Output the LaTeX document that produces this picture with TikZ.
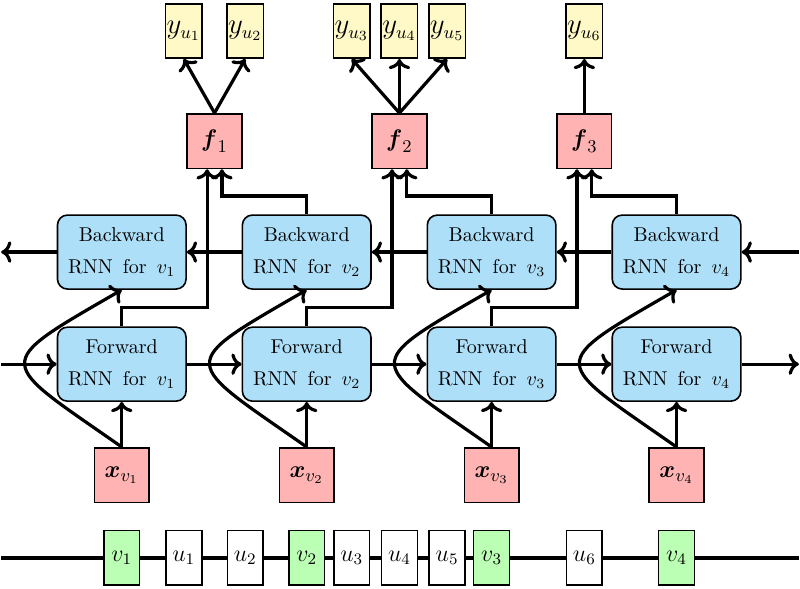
\documentclass[tikz,border=0pt]{standalone}
\usepackage{amsmath}
\usepackage{amssymb}
\usepackage{tikz}
\usetikzlibrary{arrows.meta, calc}
\usetikzlibrary{positioning}
\usepackage{xcolor}

\definecolor{rnnblue}{RGB}{173,223,248}
\definecolor{featpink}{RGB}{255,179,179}
\definecolor{outcream}{RGB}{255,249,200}
\definecolor{seqgreen}{RGB}{186,255,180}

\tikzset{
	rnnbox/.style={draw,thick,fill=rnnblue,rounded corners=5pt,minimum width=2.26cm,minimum height=1.3cm,align=center},
	featbox/.style={draw,thick,fill=featpink,minimum size=0.96cm,inner sep=0pt,font=\fontsize{13}{15}\selectfont},
	outbox/.style={draw,thick,fill=outcream,minimum width=0.64cm,minimum height=0.95cm,inner sep=0pt,font=\fontsize{13.5}{16}\selectfont},
	seqbox/.style={draw,thick,fill=white,minimum width=0.63cm,minimum height=0.96cm,inner sep=0pt,font=\large},
}

\begin{document}
\begin{tikzpicture}
	\useasboundingbox (0,0) rectangle (14.06,10.35);
	
	\coordinate (B1) at (2.14,5.92);
	\coordinate (B2) at (5.39,5.92);
	\coordinate (B3) at (8.64,5.92);
	\coordinate (B4) at (11.89,5.92);
	
	\coordinate (R1) at (2.14,3.95);
	\coordinate (R2) at (5.39,3.95);
	\coordinate (R3) at (8.64,3.95);
	\coordinate (R4) at (11.89,3.95);
	
	\coordinate (X1) at (2.14,2.00);
	\coordinate (X2) at (5.39,2.00);
	\coordinate (X3) at (8.64,2.00);
	\coordinate (X4) at (11.89,2.00);
	
	\coordinate (F1) at (3.77,7.87);
	\coordinate (F2) at (7.02,7.87);
	\coordinate (F3) at (10.27,7.87);
	
	\coordinate (S)    at (0,0.545);
	\coordinate (fwdL) at (0.02,3.95);
	\coordinate (fwdR) at (14.04,3.95);
	\coordinate (bwdL) at (0.02,5.92);
	\coordinate (bwdR) at (14.04,5.92);
	\coordinate (seqL) at (0.02,0.545);
	\coordinate (seqR) at (14.04,0.545);
	
	\node[rnnbox] (bw1) at (B1) {Backward\\[4pt]RNN\enspace for\enspace $v_1$};
	\node[rnnbox] (bw2) at (B2) {Backward\\[4pt]RNN\enspace for\enspace $v_2$};
	\node[rnnbox] (bw3) at (B3) {Backward\\[4pt]RNN\enspace for\enspace $v_3$};
	\node[rnnbox] (bw4) at (B4) {Backward\\[4pt]RNN\enspace for\enspace $v_4$};
	
	\node[rnnbox] (fw1) at (R1) {Forward\\[4pt]RNN\enspace for\enspace $v_1$};
	\node[rnnbox] (fw2) at (R2) {Forward\\[4pt]RNN\enspace for\enspace $v_2$};
	\node[rnnbox] (fw3) at (R3) {Forward\\[4pt]RNN\enspace for\enspace $v_3$};
	\node[rnnbox] (fw4) at (R4) {Forward\\[4pt]RNN\enspace for\enspace $v_4$};
	
	\node[featbox] (x1) at (X1) {$\boldsymbol{x}_{v_1}$};
	\node[featbox] (x2) at (X2) {$\boldsymbol{x}_{v_2}$};
	\node[featbox] (x3) at (X3) {$\boldsymbol{x}_{v_3}$};
	\node[featbox] (x4) at (X4) {$\boldsymbol{x}_{v_4}$};
	
	\node[featbox] (f1) at (F1) {$\boldsymbol{f}_1$};
	\node[featbox] (f2) at (F2) {$\boldsymbol{f}_2$};
	\node[featbox] (f3) at (F3) {$\boldsymbol{f}_3$};
	
	\node[outbox,above=0.95cm of f1,xshift=-0.54cm] (yu1) {$y_{u_1}$};
	\node[outbox,above=0.95cm of f1,xshift=0.54cm]  (yu2) {$y_{u_2}$};
	\node[outbox,above=0.95cm of f2] (yu4) {$y_{u_4}$};
	\node[outbox,left=0.17cm of yu4]  (yu3) {$y_{u_3}$};
	\node[outbox,right=0.17cm of yu4] (yu5) {$y_{u_5}$};
	\node[outbox,above=0.95cm of f3] (yu6) {$y_{u_6}$};
	
	\node[seqbox,fill=seqgreen] (sv1) at (x1 |- S)  {$v_1$};
	\node[seqbox]               (su1) at (yu1 |- S) {$u_1$};
	\node[seqbox]               (su2) at (yu2 |- S) {$u_2$};
	\node[seqbox,fill=seqgreen] (sv2) at (x2 |- S)  {$v_2$};
	\node[seqbox]               (su3) at (yu3 |- S) {$u_3$};
	\node[seqbox]               (su4) at (yu4 |- S) {$u_4$};
	\node[seqbox]               (su5) at (yu5 |- S) {$u_5$};
	\node[seqbox,fill=seqgreen] (sv3) at (x3 |- S)  {$v_3$};
	\node[seqbox]               (su6) at (yu6 |- S) {$u_6$};
	\node[seqbox,fill=seqgreen] (sv4) at (x4 |- S)  {$v_4$};
	
	% sequence line
	\draw[ultra thick] (seqL)--(sv1)--(su1)--(su2)--(sv2)--(su3)--(su4)--(su5)--(sv3)--(su6)--(sv4)--(seqR);
	
	% forward chain
	\draw[->,ultra thick] (fwdL)--(fw1.west);
	\draw[->,ultra thick] (fw1.east)--(fw2.west);
	\draw[->,ultra thick] (fw2.east)--(fw3.west);
	\draw[->,ultra thick] (fw3.east)--(fw4.west);
	\draw[->,ultra thick] (fw4.east)--(fwdR);
	
	% backward chain
	\draw[->,ultra thick] (bwdR)--(bw4.east);
	\draw[->,ultra thick] (bw4.west)--(bw3.east);
	\draw[->,ultra thick] (bw3.west)--(bw2.east);
	\draw[->,ultra thick] (bw2.west)--(bw1.east);
	\draw[->,ultra thick] (bw1.west)--(bwdL);
	
	% inputs
	\draw[->,ultra thick] (x1.north)--(fw1.south);
	\draw[->,ultra thick] (x2.north)--(fw2.south);
	\draw[->,ultra thick] (x3.north)--(fw3.south);
	\draw[->,ultra thick] (x4.north)--(fw4.south);
	\draw[->,ultra thick] (x1.north) to[out=145,in=210,looseness=2.5] (bw1.south);
	\draw[->,ultra thick] (x2.north) to[out=145,in=210,looseness=2.5] (bw2.south);
	\draw[->,ultra thick] (x3.north) to[out=145,in=210,looseness=2.5] (bw3.south);
	\draw[->,ultra thick] (x4.north) to[out=145,in=210,looseness=2.5] (bw4.south);
	
	% into the f boxes
	\draw[->,ultra thick] (fw1.north)--++(0,0.33) -| ($(f1.south)+(-0.13,0)$);
	\draw[->,ultra thick] (fw2.north)--++(0,0.33) -| ($(f2.south)+(-0.13,0)$);
	\draw[->,ultra thick] (fw3.north)--++(0,0.33) -| ($(f3.south)+(-0.13,0)$);
	\draw[->,ultra thick] (bw2.north)--++(0,0.32) -| ($(f1.south)+(0.13,0)$);
	\draw[->,ultra thick] (bw3.north)--++(0,0.32) -| ($(f2.south)+(0.13,0)$);
	\draw[->,ultra thick] (bw4.north)--++(0,0.32) -| ($(f3.south)+(0.13,0)$);
	
	% outputs
	\draw[->,ultra thick] (f1.north)--(yu1.south);
	\draw[->,ultra thick] (f1.north)--(yu2.south);
	\draw[->,ultra thick] (f2.north)--(yu3.south);
	\draw[->,ultra thick] (f2.north)--(yu4.south);
	\draw[->,ultra thick] (f2.north)--(yu5.south);
	\draw[->,ultra thick] (f3.north)--(yu6.south);
\end{tikzpicture}
\end{document}
